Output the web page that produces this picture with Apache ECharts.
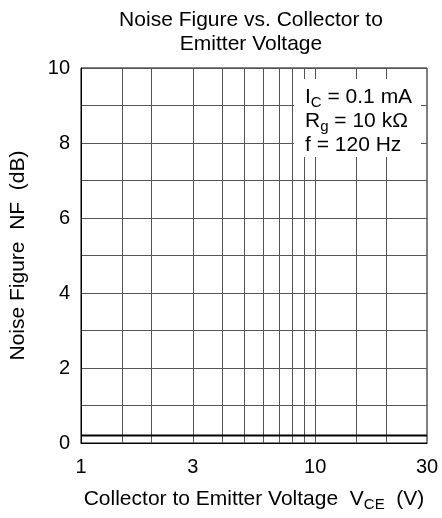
<!DOCTYPE html>
<html><head><meta charset="utf-8">
<script src="https://cdn.jsdelivr.net/npm/echarts@6/dist/echarts.min.js"></script>
<style>html,body{margin:0;padding:0;background:#fff}#c{width:442px;height:518px}</style>
</head><body><div id="c"></div>
<script>
const vce = [1, 30];
const nf = [0.2, 0.2];
const xGridValues = [1.5, 2, 3, 4, 5, 6, 7, 8, 9, 10, 15, 20];
const xTickLabels = [1, 3, 10, 30];
const yTickLabels = [0, 2, 4, 6, 8, 10];
const conditions = ['I|C| = 0.1 mA', 'R|g| = 10 kΩ', 'f = 120 Hz'];

const FONT = 'Liberation Sans, Arial, sans-serif';
const chart = echarts.init(document.getElementById('c'), null, {renderer: 'canvas'});

function condLine(s) {
  const p = s.split('|');
  if (p.length === 3) return '{n|' + p[0] + '}{s|' + p[1] + '}{n|' + p[2] + '}';
  return '{n|' + s + '}';
}

chart.setOption({
  animation: false,
  backgroundColor: '#fff',
  title: {
    text: 'Noise Figure vs. Collector to\nEmitter Voltage',
    left: 246, top: 3, textAlign: 'center',
    textStyle: {fontFamily: FONT, fontSize: 21, fontWeight: 'normal', color: '#000', lineHeight: 24}
  },
  grid: {left: 81, right: 15, top: 68, bottom: 75, show: true, borderColor: '#000', borderWidth: 1, backgroundColor: 'transparent'},
  xAxis: {
    type: 'log', logBase: 10, min: 1, max: 30,
    axisLine: {show: true, lineStyle: {color: '#000', width: 1}},
    axisTick: {show: false},
    splitLine: {show: false},
    minorSplitLine: {show: false},
    axisLabel: {
      customValues: xTickLabels,
      fontFamily: FONT, fontSize: 20, color: '#000', margin: 14,
      formatter: v => String(v)
    },
    name: '{n|Collector to Emitter Voltage  V}{s|CE}{n|  (V)}',
    nameLocation: 'middle', nameGap: 43,
    nameTextStyle: {
      fontFamily: FONT, fontSize: 21, color: '#000',
      rich: {
        n: {fontFamily: FONT, fontSize: 21, color: '#000'},
        s: {fontFamily: FONT, fontSize: 15, color: '#000', padding: [11, 0, 0, 0]}
      }
    }
  },
  yAxis: {
    type: 'value', min: 0, max: 10, interval: 1,
    axisLine: {show: true, lineStyle: {color: '#000', width: 1}},
    axisTick: {show: false},
    splitLine: {show: true, lineStyle: {color: '#555', width: 1}},
    axisLabel: {
      fontFamily: FONT, fontSize: 20, color: '#000', margin: 11,
      formatter: v => (yTickLabels.indexOf(v) >= 0 ? String(v) : '')
    },
    name: 'Noise Figure  NF  (dB)',
    nameLocation: 'middle', nameGap: 52, nameRotate: 90,
    nameTextStyle: {fontFamily: FONT, fontSize: 21, color: '#000'}
  },
  series: [{
    type: 'line',
    data: vce.map((x, i) => [x, nf[i]]),
    symbol: 'none',
    lineStyle: {color: '#000', width: 2},
    z: 5,
    markLine: {
      silent: true, symbol: 'none',
      label: {show: false},
      lineStyle: {color: '#555', width: 1, type: 'solid'},
      data: xGridValues.map(v => ({xAxis: v}))
    }
  }],
  graphic: [{
    type: 'group', z: 100,
    children: [
      {type: 'rect', shape: {x: 294, y: 79, width: 127, height: 78}, style: {fill: '#fff'}, z: 100},
      {type: 'text', x: 305, y: 85, z: 101,
       style: {
         text: conditions.map(condLine).join('\n'),
         fontFamily: FONT, fontSize: 21, fill: '#000',
         rich: {
           n: {fontFamily: FONT, fontSize: 21, fill: '#000', lineHeight: 24},
           s: {fontFamily: FONT, fontSize: 15, fill: '#000', lineHeight: 24, padding: [11, 0, 0, 0]}
         }
       }}
    ]
  }]
});
</script></body></html>
